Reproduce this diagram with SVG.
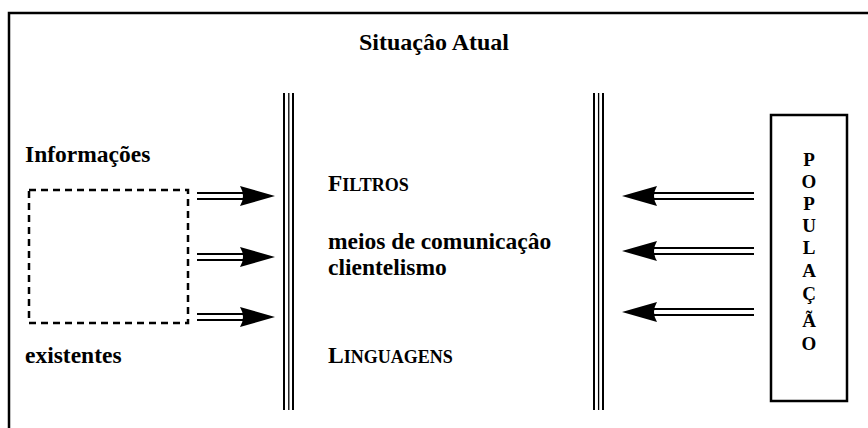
<svg xmlns="http://www.w3.org/2000/svg" width="868" height="428" viewBox="0 0 868 428">
<style>
text { font-weight: bold; fill: #000; }
.lbl { font-size: 23.5px; }
.sc { font-size: 18px; }
.pop { font-size: 19px; text-anchor: middle; }
.bar { stroke: #000; fill: none; }
.shaft { stroke: #000; stroke-width: 2; fill: none; }
.head { fill: #000; stroke: none; }
</style>
<rect x="0" y="0" width="868" height="428" fill="#fff"/>
<g font-family="'Liberation Serif', 'Times New Roman', 'DejaVu Serif', serif">
<g id="frame">
<rect x="9" y="13" width="900" height="500" fill="none" stroke="#000" stroke-width="2.5"/>
<text x="434" y="50" font-size="24" text-anchor="middle">Situaçâo Atual</text>
</g>
<g id="informacoes">
<text class="lbl" x="25" y="162">Informações</text>
<rect x="29" y="190" width="159" height="133" fill="none" stroke="#000" stroke-width="2.5" stroke-dasharray="7,5"/>
<text class="lbl" x="25" y="363">existentes</text>
</g>
<g id="filtro-esquerdo">
<line class="bar" x1="284" y1="93" x2="284" y2="410" stroke-width="2"/>
<line class="bar" x1="288.8" y1="93" x2="288.8" y2="410" stroke-width="1.3"/>
<line class="bar" x1="293" y1="93" x2="293" y2="410" stroke-width="2"/>
</g>
<g id="filtro-direito">
<line class="bar" x1="594" y1="93" x2="594" y2="410" stroke-width="2"/>
<line class="bar" x1="598.6" y1="93" x2="598.6" y2="410" stroke-width="1.3"/>
<line class="bar" x1="603" y1="93" x2="603" y2="410" stroke-width="2"/>
</g>
<g id="filtros">
<text class="lbl" x="328" y="191">F<tspan class="sc">ILTROS</tspan></text>
<text class="lbl" x="328" y="249">meios de comunicaçâo</text>
<text class="lbl" x="328" y="275">clientelismo</text>
<text class="lbl" x="328" y="363">L<tspan class="sc">INGUAGENS</tspan></text>
</g>
<g id="populacao">
<rect x="771" y="115" width="76" height="286" fill="#fff" stroke="#000" stroke-width="2.5"/>
<text class="pop" x="809" y="166">P</text>
<text class="pop" x="809" y="188">O</text>
<text class="pop" x="809" y="210">P</text>
<text class="pop" x="809" y="232">U</text>
<text class="pop" x="809" y="254">L</text>
<text class="pop" x="809" y="277">A</text>
<text class="pop" x="809" y="300">Ç</text>
<text class="pop" x="809" y="327">Ã</text>
<text class="pop" x="809" y="350">O</text>
</g>
</g>
<g id="connectors">
<g>
<line class="shaft" x1="197" y1="193" x2="246" y2="193"/>
<line class="shaft" x1="197" y1="199" x2="246" y2="199"/>
<path class="head" d="M275,196 L240,186 Q246,196 240,206 Z"/>
</g>
<g>
<line class="shaft" x1="197" y1="254" x2="246" y2="254"/>
<line class="shaft" x1="197" y1="260" x2="246" y2="260"/>
<path class="head" d="M275,257 L240,247 Q246,257 240,267 Z"/>
</g>
<g>
<line class="shaft" x1="197" y1="314" x2="246" y2="314"/>
<line class="shaft" x1="197" y1="320" x2="246" y2="320"/>
<path class="head" d="M275,317 L240,307 Q246,317 240,327 Z"/>
</g>
<g>
<line class="shaft" x1="651" y1="193" x2="754" y2="193"/>
<line class="shaft" x1="651" y1="199" x2="754" y2="199"/>
<path class="head" d="M622,196 L657,186 Q651,196 657,206 Z"/>
</g>
<g>
<line class="shaft" x1="651" y1="248" x2="754" y2="248"/>
<line class="shaft" x1="651" y1="254" x2="754" y2="254"/>
<path class="head" d="M622,251 L657,241 Q651,251 657,261 Z"/>
</g>
<g>
<line class="shaft" x1="651" y1="309" x2="754" y2="309"/>
<line class="shaft" x1="651" y1="315" x2="754" y2="315"/>
<path class="head" d="M622,312 L657,302 Q651,312 657,322 Z"/>
</g>
</g>
</svg>
